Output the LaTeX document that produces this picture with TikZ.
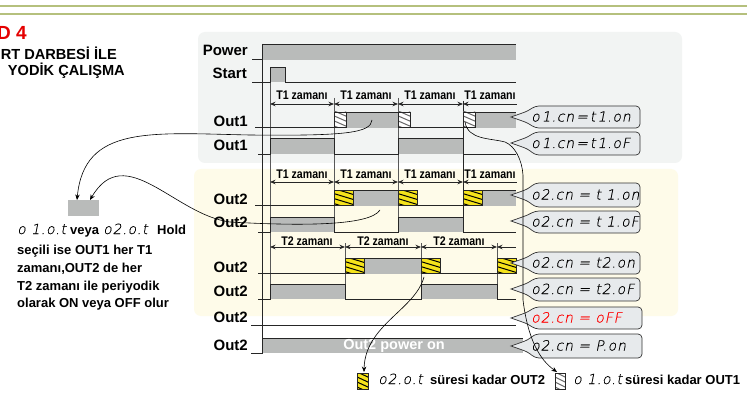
\documentclass[tikz,border=0pt]{standalone}
\usepackage{fontspec}
\setmainfont{Liberation Sans}
\newfontfamily\segfont[FakeSlant=0.2,FakeBold=0.3,LetterSpace=6]{DejaVu Sans ExtraLight}
\usetikzlibrary{arrows.meta}
\definecolor{wavegray}{HTML}{B9BBBA}
\definecolor{panelgray}{HTML}{F2F4F3}
\definecolor{panelyellow}{HTML}{FEFBE9}
\definecolor{calloutgray}{HTML}{E7EAEC}
\definecolor{ruleolive}{HTML}{B5C07D}
\definecolor{stripeyellow}{HTML}{F5E31B}
\tikzset{>={Stealth[length=5.5pt,width=4.5pt]}}
\tikzset{
    wave/.style={line width=0.8pt, draw=black!85},
    guide/.style={line width=0.7pt, draw=black!65},
    rowlabel/.style={font=\bfseries\fontsize{15}{15}\selectfont, anchor=east, inner sep=0pt},
    timelabel/.style={font=\bfseries\fontsize{12.5}{12}\selectfont, xscale=0.85, transform shape, inner sep=0pt},
    bodytext/.style={font=\bfseries\fontsize{13}{13}\selectfont, anchor=base west, inner sep=0pt},
    segtext/.style={font=\segfont\fontsize{14}{14}\selectfont, anchor=base west, inner sep=0pt},
    titletext/.style={font=\bfseries\fontsize{14.6}{15}\selectfont, anchor=east, inner sep=0pt},
    calloutbox/.style={draw=black!80, fill=calloutgray, line width=0.7pt},
    lead/.style={line width=0.6pt, draw=black}
}
\newcommand{\tightsp}{\spaceskip=2pt\relax}
% x y1 y2 width
\newcommand{\graybar}[4]{\fill[wavegray] (#1,#2) rectangle ++(#4,#3-#2);}
% x ytop ybottom width fill stripe
\newcommand{\stripebox}[6]{
    \begin{scope}
        \clip (#1,#2) rectangle ++(#4,#3-#2);
        \fill[#5] (#1,#2) rectangle ++(#4,#3-#2);
        \foreach \k in {-12,-7,...,18}
            \draw[#6, line width=1pt] (#1-2,#2+\k) -- ++(#4+4,7);
    \end{scope}
    \draw[wave] (#1,#2) rectangle ++(#4,#3-#2);
}
% name top bottom tip right text colour
\newcommand{\callout}[7]{
    \draw[calloutbox] (511,#4) [rounded corners=4pt] -- (528,#4-6) -- (535,#2) -- (#5,#2) -- (#5,#3) -- (535,#3) -- (528,#4+6) [sharp corners] -- cycle;
    \node[segtext, text=#7] (#1) at (531,{(#2+#3)/2+4.5}) {#6};
}
\begin{document}
\begin{tikzpicture}[x=1pt, y=-1pt]
    \useasboundingbox (0,0) rectangle (747,393);
    \fill[white] (0,0) rectangle (747,393);
    \fill[ruleolive] (0,5) rectangle (747,7.5);
    \fill[ruleolive] (0,13) rectangle (747,15);
    \fill[panelgray, rounded corners=7pt] (198,32) rectangle (682,163);
    \fill[panelyellow, rounded corners=7pt] (194,169) rectangle (678,316);

    \node[anchor=east, inner sep=0pt, text=red!90!black, font=\bfseries\fontsize{19}{19}\selectfont] (title) at (27,33) {D 4};
    \node[titletext] (titlea) at (117,53) {RT DARBESİ İLE};
    \node[titletext] (titleb) at (125,71) {YODİK ÇALIŞMA};

    % gray levels
    \graybar{262}{44}{60}{254}
    \graybar{270}{67}{82}{15}
    \graybar{346}{112}{128}{52}
    \graybar{474}{112}{128}{42}
    \foreach \x/\w in {270/64,398/65} {
        \graybar{\x}{138}{154}{\w}
    }
    \graybar{353}{190}{206}{45}
    \graybar{482}{190}{206}{34}
    \foreach \x/\w in {270/64,398/65} {
        \graybar{\x}{217}{232}{\w}
    }
    \graybar{364}{258}{274}{57}
    \foreach \x/\w in {270/75,421/76} {
        \graybar{\x}{284}{299}{\w}
    }
    \graybar{262}{338}{353}{261}

    % guides
    \draw[guide] (270,82) -- (270,299);
    \foreach \x in {334,398}
        \draw[guide] (\x,98) -- (\x,232);
    \draw[wave] (463,101) -- (463,232);
    \foreach \x in {345,421,497}
        \draw[guide] (\x,243) -- (\x,299);
    \draw[wave] (262,44) -- (262,353);

    % waves
    \draw[wave] (252,59) -- (262,59) -- (262,44) -- (516,44);
    \draw[wave] (252,82) -- (270,82) -- (270,67) -- (285,67) -- (285,82) -- (516,82);
    \draw[wave] (255,127) -- (334,127) -- (334,112) -- (398,112) -- (398,127) -- (463,127) -- (463,112) -- (516,112);
    \draw[wave] (258,154) -- (270,154) -- (270,138) -- (334,138) -- (334,154) -- (398,154) -- (398,138) -- (463,138) -- (463,154) -- (516,154);
    \draw[wave] (255,205) -- (334,205) -- (334,190) -- (398,190) -- (398,205) -- (463,205) -- (463,190) -- (516,190);
    \draw[wave] (258,232) -- (270,232) -- (270,217) -- (334,217) -- (334,232) -- (398,232) -- (398,217) -- (463,217) -- (463,232) -- (516,232);
    \draw[wave] (258,273) -- (345,273) -- (345,258) -- (421,258) -- (421,273) -- (497,273) -- (497,258) -- (516,258);
    \draw[wave] (258,299) -- (270,299) -- (270,284) -- (345,284) -- (345,299) -- (421,299) -- (421,284) -- (497,284) -- (497,299) -- (516,299);
    \draw[wave] (251,325) -- (516,325);
    \draw[wave] (251,353) -- (262,353) -- (262,338) -- (523,338);

    % stripe boxes
    \foreach \x in {334,398,463} {
        \stripebox{\x}{112}{127}{12}{white}{black!60}
    }
    \foreach \x in {334,398,463} {
        \stripebox{\x}{190}{205}{19}{stripeyellow}{black}
    }
    \foreach \x in {345,421,497} {
        \stripebox{\x}{258}{273}{19}{stripeyellow}{black}
    }

    % time spans
    \foreach \a/\b in {270/334,334/398,398/463}
        \draw[<->, wave] (\a,104) -- (\b,104);
    \draw[<-, wave] (463,104) -- (517,104);
    \foreach \x in {302,366,430,490}
        \node[timelabel] at (\x,95) {T1 zamanı};
    \foreach \a/\b in {270/334,334/398,398/463}
        \draw[<->, wave] (\a,182) -- (\b,182);
    \draw[<-, wave] (463,182) -- (517,182);
    \foreach \x in {302,366,430,490}
        \node[timelabel] at (\x,174) {T1 zamanı};
    \foreach \a/\b in {270/345,345/421,421/497}
        \draw[<->, wave] (\a,247) -- (\b,247);
    \draw[<-, wave] (497,247) -- (516,247);
    \foreach \x in {307,383,459}
        \node[timelabel] at (\x,241) {T2 zamanı};

    % row names
    \node[rowlabel] (power) at (248,50) {Power};
    \node[rowlabel] (start) at (247,73) {Start};
    \node[rowlabel] (outa) at (248,121) {Out1};
    \node[rowlabel] (outb) at (248,145) {Out1};
    \node[rowlabel] (outc) at (248,199) {Out2};
    \node[rowlabel] (outd) at (248,222) {Out2};
    \node[rowlabel] (oute) at (248,267) {Out2};
    \node[rowlabel] (outf) at (248,291) {Out2};
    \node[rowlabel] (outg) at (248,317) {Out2};
    \node[rowlabel] (outh) at (248,345) {Out2};
    \node[inner sep=0pt, text=white, font=\bfseries\fontsize{14.5}{14.5}\selectfont] (poweron) at (394,346) {Out2 power on};

    % callouts
    \callout{cna}{106}{128}{117}{640}{\tightsp o 1.cn = t 1.on}{black}
    \callout{cnb}{132}{155}{143}{640}{\tightsp o 1.cn = t 1.oF}{black}
    \callout{cnc}{183}{207}{195}{640}{o2.cn = t 1.on}{black}
    \callout{cnd}{211}{233}{221}{640}{o2.cn = t 1.oF}{black}
    \callout{cne}{252}{274}{263}{640}{o2.cn = t2.on}{black}
    \callout{cnf}{278}{301}{289}{640}{o2.cn = t2.oF}{black}
    \callout{cng}{307}{329}{318}{642}{o2.cn = oFF}{red}
    \callout{cnh}{334}{358}{346}{642}{o2.cn = P.on}{black}

    % hold note
    \fill[wavegray] (68,200) rectangle (99,216);
    \coordinate (holda) at (77,200);
    \coordinate (holdb) at (90,200);
    \node[segtext] (holdo) at (17,234) {o 1.o.t};
    \node[bodytext] (holdv) at (70,234) {veya};
    \node[segtext] (holdt) at (103,234) {o2.o.t};
    \node[bodytext] (holdh) at (157,234) {Hold};
    \node[bodytext] (notea) at (17,254) {seçili ise OUT1 her T1};
    \node[bodytext] (noteb) at (17,272) {zamanı,OUT2 de her};
    \node[bodytext] (notec) at (17,290) {T2 zamanı ile periyodik};
    \node[bodytext] (noted) at (17,307) {olarak ON veya OFF olur};

    % legend
    \stripebox{357}{373}{389}{11}{stripeyellow}{black}
    \node[segtext] (lega) at (378,384) {o2.o.t};
    \node[bodytext] (legb) at (430,384) {süresi kadar OUT2};
    \stripebox{555}{373}{389}{10}{white}{black!60}
    \node[segtext] (legc) at (573,384) {o 1.o.t};
    \node[bodytext] (legd) at (625,384) {süresi kadar OUT1};

    % leads
    \coordinate (stripet) at (465,122);
    \coordinate (legt) at (557,372);
    \coordinate (stripeu) at (424,277);
    \coordinate (legu) at (364,372);
    \coordinate (baron) at (372,120);
    \coordinate (baroff) at (380,210);
    \draw[lead, ->] (baron) .. controls (371,133) and (345,136) .. (250,135) .. controls (150,133) and (84,125) .. (holda);
    \draw[lead, ->] (baroff) .. controls (370,226) and (300,226) .. (230,222) .. controls (175,215) and (125,140) .. (holdb);
    \draw[lead, ->] (stripeu) .. controls (415,310) and (365,325) .. (legu);
    \draw[lead, ->] (stripet) .. controls (468,140) and (490,138) .. (505,142) .. controls (515,146) and (522,160) .. (523,175) -- (523,300) .. controls (528,340) and (540,360) .. (legt);
\end{tikzpicture}
\end{document}
